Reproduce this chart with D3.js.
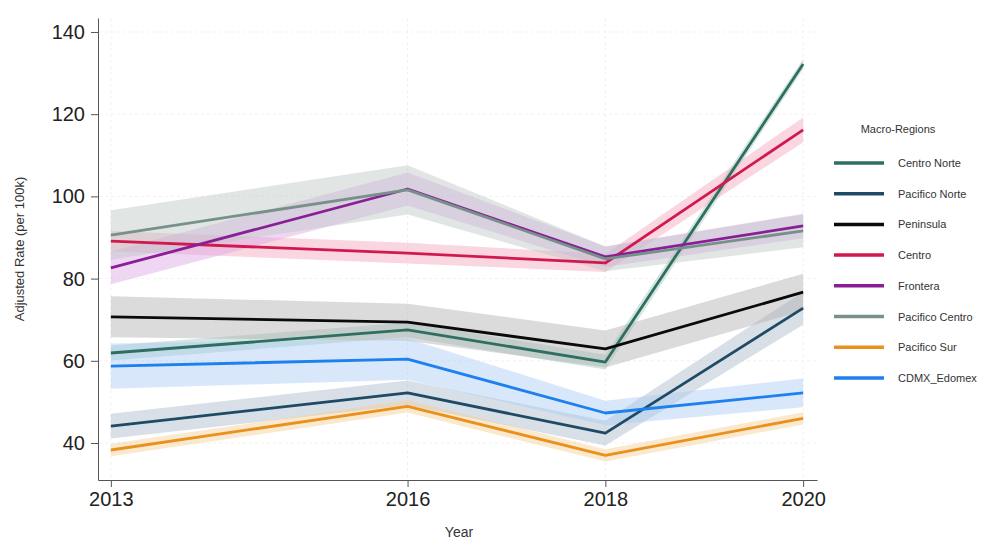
<!DOCTYPE html>
<html>
<head>
<meta charset="utf-8">
<script src="https://d3js.org/d3.v7.min.js"></script>
<style>
body { margin: 0; background: #fff; font-family: "Liberation Sans", Arial, sans-serif; }
.tick text { font-size: 20px; fill: #222; }
.legend text { font-size: 11px; fill: #333; }
</style>
</head>
<body>
<svg id="chart" width="991" height="541"></svg>
<script>
// years on the x axis
var years = [2013, 2016, 2018, 2020];
var yTicks = [40, 60, 80, 100, 120, 140];

var regions = ["Centro Norte", "Pacifico Norte", "Peninsula", "Centro", "Frontera", "Pacifico Centro", "Pacifico Sur", "CDMX_Edomex"];
var colors  = ["#2f6f61", "#1f4a66", "#0a0a0a", "#d2194f", "#8a1e96", "#76918a", "#e8911c", "#1c80ee"];
var bandColors = ["#9fc7bd", "#a9b9c8", "#b0b0b0", "#f4a3bb", "#dba6e6", "#bcc8c4", "#f7cf95", "#a9cdf5"];

// point estimates per region, in the order of years
var centroNorte    = [61.9, 67.5, 59.7, 132.2];
var pacificoNorte  = [44.1, 52.2, 42.4, 72.8];
var peninsula      = [70.7, 69.4, 62.9, 76.7];
var centro         = [89.1, 86.2, 83.8, 116.2];
var frontera       = [82.6, 101.8, 85.3, 92.8];
var pacificoCentro = [90.6, 101.6, 84.8, 91.6];
var pacificoSur    = [38.3, 48.9, 37.0, 46.0];
var cdmxEdomex     = [58.7, 60.4, 47.3, 52.2];

// half-width of the confidence band
var ciCentroNorte    = [1.8, 1.8, 1.8, 1.2];
var ciPacificoNorte  = [3.0, 3.0, 3.0, 4.0];
var ciPeninsula      = [5.0, 4.5, 4.5, 4.5];
var ciCentro         = [2.5, 2.5, 2.2, 3.0];
var ciFrontera       = [4.0, 4.0, 2.5, 3.0];
var ciPacificoCentro = [6.0, 6.0, 3.0, 4.0];
var ciPacificoSur    = [1.5, 1.5, 1.5, 1.5];
var ciCdmxEdomex     = [5.5, 5.0, 3.0, 3.5];

var values = [centroNorte, pacificoNorte, peninsula, centro, frontera, pacificoCentro, pacificoSur, cdmxEdomex];
var cis = [ciCentroNorte, ciPacificoNorte, ciPeninsula, ciCentro, ciFrontera, ciPacificoCentro, ciPacificoSur, ciCdmxEdomex];

var svg = d3.select("#chart");

var x = d3.scaleLinear().domain([2012.87, 2020.14]).range([98, 817]);
var y = d3.scaleLinear().domain([31, 143.4]).range([480, 18]);

// grid
var grid = svg.append("g");
grid.selectAll(".hg").data(yTicks).enter().append("line")
  .attr("x1", 99).attr("x2", 817)
  .attr("y1", function(d) { return y(d); }).attr("y2", function(d) { return y(d); })
  .attr("stroke", "#f1f1f1").attr("stroke-width", 1).attr("stroke-dasharray", "3,3");
grid.selectAll(".vg").data(years).enter().append("line")
  .attr("y1", 18).attr("y2", 480)
  .attr("x1", function(d) { return x(d); }).attr("x2", function(d) { return x(d); })
  .attr("stroke", "#f1f1f1").attr("stroke-width", 1).attr("stroke-dasharray", "3,3");

// bands
var area = d3.area()
  .x(function(d) { return x(d.year); })
  .y0(function(d) { return y(d.v - d.ci); })
  .y1(function(d) { return y(d.v + d.ci); });
var line = d3.line()
  .x(function(d) { return x(d.year); })
  .y(function(d) { return y(d.v); });

function pts(i) {
  return years.map(function(yr, j) { return {year: yr, v: values[i][j], ci: cis[i][j]}; });
}

regions.forEach(function(r, i) {
  svg.append("path").datum(pts(i))
    .attr("d", area)
    .attr("fill", bandColors[i])
    .attr("fill-opacity", 0.45);
});
regions.forEach(function(r, i) {
  svg.append("path").datum(pts(i))
    .attr("d", line)
    .attr("fill", "none")
    .attr("stroke", colors[i])
    .attr("stroke-width", 2.8)
    .attr("stroke-linejoin", "round");
});

// axes
var xAxis = svg.append("g").attr("transform", "translate(0,480)")
  .call(d3.axisBottom(x).tickValues(years).tickFormat(d3.format("d")).tickSize(7).tickSizeOuter(0));
xAxis.select(".domain").attr("stroke", "#555");
xAxis.selectAll(".tick line").attr("stroke", "#555");
xAxis.selectAll(".tick text").attr("y", 12);

var yAxis = svg.append("g").attr("transform", "translate(98,0)")
  .call(d3.axisLeft(y).tickValues(yTicks).tickSize(7).tickPadding(6).tickSizeOuter(0));
yAxis.select(".domain").attr("stroke", "#555");
yAxis.selectAll(".tick line").attr("stroke", "#555");

svg.append("text")
  .attr("transform", "translate(24,249)rotate(-90)")
  .attr("text-anchor", "middle")
  .style("font-size", "13px").style("fill", "#333")
  .text("Adjusted Rate (per 100k)");
svg.append("text")
  .attr("x", 459).attr("y", 537)
  .attr("text-anchor", "middle")
  .style("font-size", "14px").style("fill", "#333")
  .text("Year");

// legend
var legend = svg.append("g").attr("class", "legend");
legend.append("text").attr("x", 898).attr("y", 133).attr("text-anchor", "middle").text("Macro-Regions");
var items = legend.selectAll(".item").data(regions).enter().append("g")
  .attr("transform", function(d, i) { return "translate(0," + (163 + i * 30.7) + ")"; });
items.append("line").attr("x1", 834).attr("x2", 884).attr("y1", 0).attr("y2", 0)
  .attr("stroke", function(d, i) { return colors[i]; }).attr("stroke-width", 3.5);
items.append("text").attr("x", 898).attr("y", 4).text(function(d) { return d; });
</script>
</body>
</html>
